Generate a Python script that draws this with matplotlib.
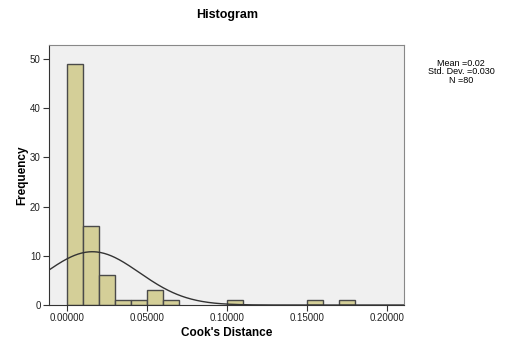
import numpy as np
import matplotlib
matplotlib.use("Agg")
import matplotlib.pyplot as plt

bin_edges_left = [0.00, 0.01, 0.02, 0.03, 0.04, 0.05, 0.06, 0.10, 0.15, 0.17]
counts = [49, 16, 6, 1, 1, 3, 1, 1, 1, 1]
bin_width = 0.01
mean_val = 0.0158
sd_val = 0.0295
n_val = 80
xticks = [0.0, 0.05, 0.10, 0.15, 0.20]
xtick_labels = ["0.00000", "0.05000", "0.10000", "0.15000", "0.20000"]
yticks = [0, 10, 20, 30, 40, 50]

plt.rcParams['font.family'] = ['Liberation Sans', 'DejaVu Sans']
fig = plt.figure(figsize=(5.07, 3.41), dpi=100)
ax = fig.add_axes([49/507, 36/341, 355/507, 260/341])
ax.set_facecolor('#F0F0F0')
ax.bar(bin_edges_left, counts, width=bin_width, align='edge',
       color='#D4CF98', edgecolor='#4a4a4a', linewidth=1.0, zorder=2)

xlim = (-0.01125, 0.2106)
xs = np.linspace(xlim[0], xlim[1], 400)
ys = n_val * bin_width / (sd_val * np.sqrt(2*np.pi)) * np.exp(-(xs-mean_val)**2/(2*sd_val**2))
ax.plot(xs, ys, color='#333333', linewidth=1.0, zorder=3)

ax.set_xlim(*xlim)
ax.set_ylim(0, 52.8)
ax.set_xticks(xticks)
ax.set_xticklabels(xtick_labels)
ax.set_yticks(yticks)
ax.tick_params(axis='both', labelsize=7, length=4, direction='out', color='#333333',
               labelcolor='#222222', pad=2)
for s in ['left', 'bottom']:
    ax.spines[s].set_color('#333333')
for s in ['top', 'right']:
    ax.spines[s].set_color('#888888')

ax.set_ylabel('Frequency', fontsize=8.5, fontweight='bold', labelpad=1)
ax.set_xlabel("Cook's Distance", fontsize=8.5, fontweight='bold', labelpad=3)
fig.text(227/507, 1-15/341, 'Histogram', ha='center', va='center', fontsize=9, fontweight='bold')
fig.text(461/507, 1-72/341, 'Mean =0.02\nStd. Dev. =0.030\nN =80', ha='center', va='center',
         fontsize=6.5, linespacing=0.95)
fig.savefig('out.png', dpi=100)
